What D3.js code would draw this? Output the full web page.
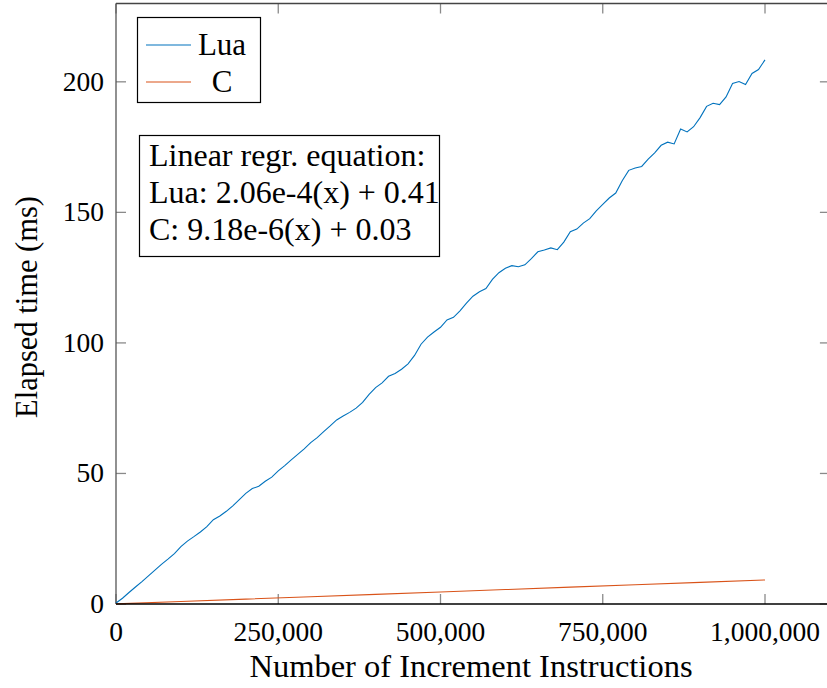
<!DOCTYPE html>
<html>
<head>
<meta charset="utf-8">
<script src="https://cdn.jsdelivr.net/npm/d3@7"></script>
<style>
  html, body { margin: 0; padding: 0; background: #fff; }
  svg { display: block; }
  text { font-family: "Liberation Serif", "DejaVu Serif", serif; fill: #000; }
</style>
</head>
<body>
<svg id="chart" width="827" height="688"></svg>
<script>
// ---- data ----
const luaX = d3.range(0, 1000001, 10000);
const luaY = [
  0.41, 2.2, 4.4, 6.5, 8.6, 10.8, 13.0, 15.2, 17.2, 19.3,
  22.0, 24.1, 25.8, 27.6, 29.6, 32.3, 33.7, 35.5, 37.6, 40.0,
  42.4, 44.2, 45.1, 47.0, 48.6, 51.0, 53.0, 55.2, 57.3, 59.4,
  61.8, 63.7, 66.0, 68.2, 70.5, 72.0, 73.4, 75.0, 77.2, 80.3,
  82.9, 84.7, 87.2, 88.3, 89.9, 92.0, 95.2, 99.5, 102.2, 104.2,
  106.0, 108.8, 109.8, 112.3, 115.2, 117.9, 119.6, 120.8, 124.3, 126.9,
  128.6, 129.6, 129.2, 129.9, 132.3, 134.9, 135.6, 136.4, 135.7, 138.6,
  142.6, 143.6, 145.9, 147.6, 150.6, 153.1, 155.5, 157.4, 162.1, 166.1,
  167.0, 167.6, 170.4, 172.8, 175.7, 176.9, 176.2, 181.9, 180.8, 182.8,
  186.3, 190.6, 191.8, 191.3, 194.2, 199.4, 200.1, 199.0, 203.2, 204.7,
  208.4
];
const cX = [0, 100000, 200000, 300000, 400000, 500000, 600000, 700000, 800000, 900000, 1000000];
const cY = [0.03, 0.95, 1.87, 2.78, 3.70, 4.62, 5.54, 6.46, 7.37, 8.29, 9.21];
const xTicks = [0, 250000, 500000, 750000, 1000000];
const yTicks = [0, 50, 100, 150, 200];
const seriesNames = ["Lua", "C"];
const seriesColors = ["#0072BD", "#D95319"];
const equationLines = ["Linear regr. equation:", "Lua: 2.06e-4(x) + 0.41", "C: 9.18e-6(x) + 0.03"];
const xLabel = "Number of Increment Instructions";
const yLabel = "Elapsed time (ms)";

// ---- layout ----
const svg = d3.select("#chart");
const L = 116, T = 3.5, B = 604;
const x = d3.scaleLinear().domain([0, 1100000]).range([L, L + 1.1 * 649]);
const y = d3.scaleLinear().domain([0, 230]).range([B, T]);
const R = x(1100000);

const tickLen = 10;
const fmt = d3.format(",");

// ticks (inside)
const g = svg.append("g");
xTicks.forEach(v => {
  g.append("line").attr("x1", x(v)).attr("x2", x(v)).attr("y1", B).attr("y2", B - tickLen)
    .attr("stroke", "#8a8a8a").attr("stroke-width", 1.3);
  g.append("line").attr("x1", x(v)).attr("x2", x(v)).attr("y1", T).attr("y2", T + tickLen)
    .attr("stroke", "#8a8a8a").attr("stroke-width", 1.3);
});
yTicks.forEach(v => {
  g.append("line").attr("x1", L).attr("x2", L + tickLen).attr("y1", y(v)).attr("y2", y(v))
    .attr("stroke", "#8a8a8a").attr("stroke-width", 1.3);
  g.append("line").attr("x1", R).attr("x2", R - tickLen).attr("y1", y(v)).attr("y2", y(v))
    .attr("stroke", "#8a8a8a").attr("stroke-width", 1.3);
});

// frame
svg.append("line").attr("x1", L).attr("x2", R).attr("y1", T).attr("y2", T).attr("stroke", "#444").attr("stroke-width", 1.3);
svg.append("line").attr("x1", L).attr("x2", L).attr("y1", T).attr("y2", B).attr("stroke", "#555").attr("stroke-width", 1.3);
svg.append("line").attr("x1", R).attr("x2", R).attr("y1", T).attr("y2", B).attr("stroke", "#555").attr("stroke-width", 1.3);

// series
const line = d3.line().x(d => x(d[0])).y(d => y(d[1]));
svg.append("path").datum(luaX.map((v, i) => [v, luaY[i]]))
  .attr("d", line).attr("fill", "none").attr("stroke", seriesColors[0]).attr("stroke-width", 1.1);
svg.append("path").datum(cX.map((v, i) => [v, cY[i]]))
  .attr("d", line).attr("fill", "none").attr("stroke", seriesColors[1]).attr("stroke-width", 1.1);

// bottom axis line (black)
svg.append("line").attr("x1", L).attr("x2", R).attr("y1", B).attr("y2", B).attr("stroke", "#000").attr("stroke-width", 1.5);

// tick labels
const tickFont = 27.5;
xTicks.forEach(v => {
  svg.append("text").attr("x", x(v)).attr("y", B + 37).attr("text-anchor", "middle")
    .style("font-size", tickFont + "px").text(fmt(v));
});
yTicks.forEach(v => {
  svg.append("text").attr("x", L - 12).attr("y", y(v) + 9).attr("text-anchor", "end")
    .style("font-size", tickFont + "px").text(v);
});

// axis labels
svg.append("text").attr("x", 471).attr("y", 677).attr("text-anchor", "middle")
  .style("font-size", "32.5px").text(xLabel);
svg.append("text").attr("transform", `translate(37, 307) rotate(-90)`).attr("text-anchor", "middle")
  .style("font-size", "30.5px").text(yLabel);

// legend
const lg = svg.append("g");
lg.append("rect").attr("x", 137.5).attr("y", 17.5).attr("width", 123).attr("height", 85)
  .attr("fill", "#fff").attr("stroke", "#000").attr("stroke-width", 1.2);
seriesNames.forEach((n, i) => {
  const cy = 45 + i * 37;
  lg.append("line").attr("x1", 146).attr("x2", 191).attr("y1", cy).attr("y2", cy)
    .attr("stroke", seriesColors[i]).attr("stroke-width", 1.1);
  lg.append("text").attr("x", 222).attr("y", cy + 10).attr("text-anchor", "middle")
    .style("font-size", "31px").text(n);
});

// equation box
const eg = svg.append("g");
eg.append("rect").attr("x", 139.5).attr("y", 135.5).attr("width", 300).attr("height", 121)
  .attr("fill", "#fff").attr("stroke", "#000").attr("stroke-width", 1.2);
equationLines.forEach((t, i) => {
  eg.append("text").attr("x", 149).attr("y", 166 + i * 37)
    .style("font-size", "32px").text(t);
});
</script>
</body>
</html>
